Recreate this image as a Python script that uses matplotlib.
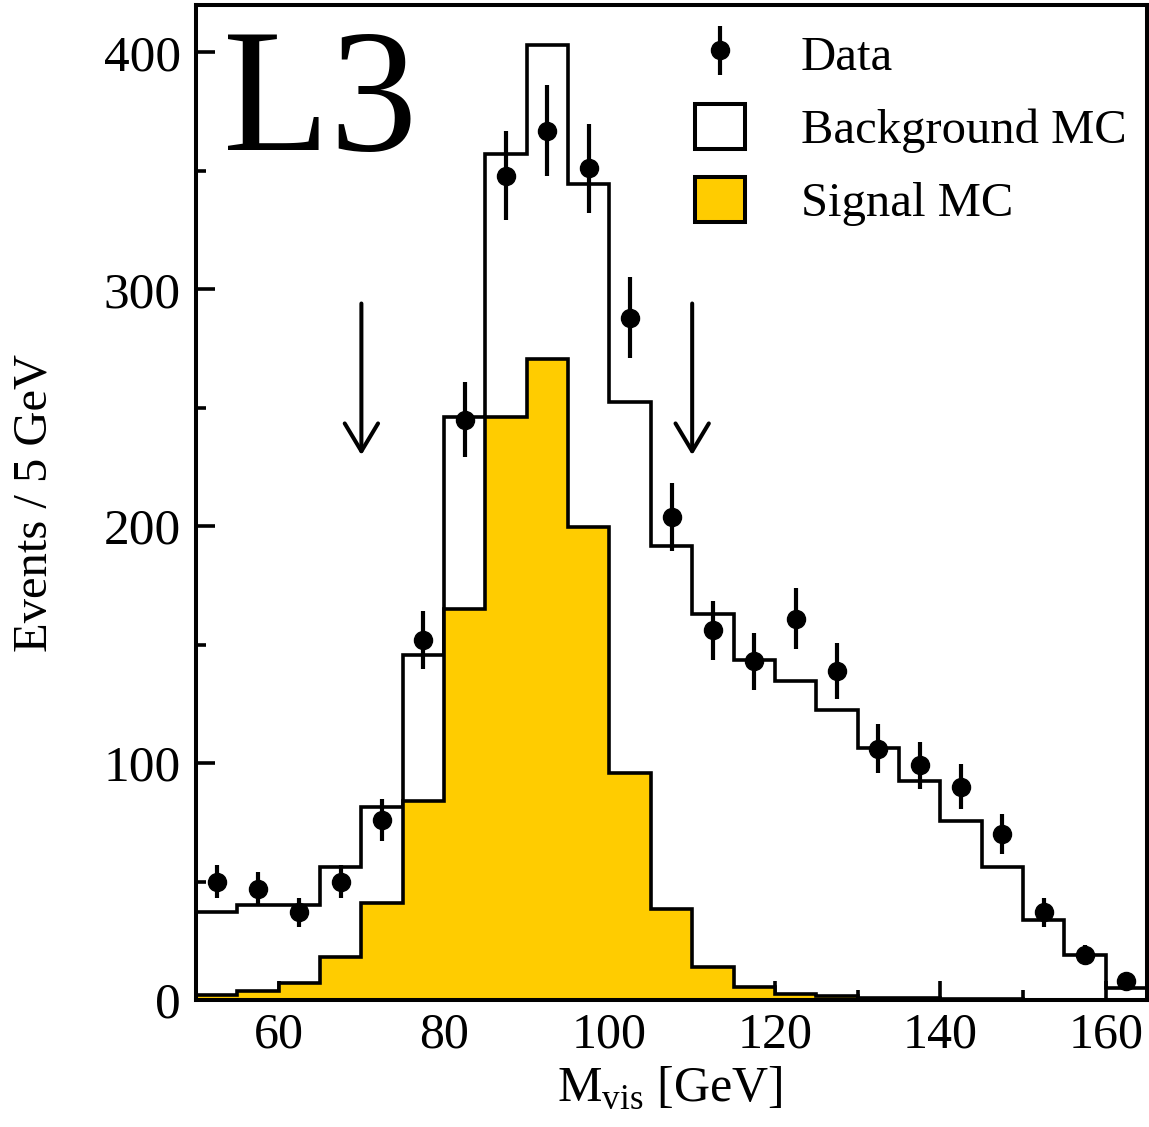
import numpy as np
import matplotlib
matplotlib.use("Agg")
import matplotlib.pyplot as plt
from matplotlib.patches import Patch
from matplotlib.ticker import MultipleLocator

plt.rcParams['font.family'] = ['Liberation Serif', 'DejaVu Serif']
plt.rcParams['mathtext.fontset'] = 'custom'
plt.rcParams['mathtext.rm'] = 'Liberation Serif'

# bin edges, 5 GeV wide
edges = np.arange(50, 166, 5)

# total MC (background + signal)
total_mc = [37, 40, 40, 56, 81.5, 145.5, 246, 357, 403, 344.5, 252.5, 191.5,
            163, 143.5, 134.5, 122.5, 106.5, 92.5, 75.5, 56, 33.7, 18.8, 5.2]

# signal MC (yellow)
signal_mc = [2.3, 3.7, 7.2, 18.2, 41, 84, 165, 246, 270.7, 199.8, 95.8, 38.5,
             13.9, 5.5, 2.4, 1.5, 1.0, 0.7, 0.4, 0.3, 0.2, 0.1, 0.1]

# data points at bin centres
data_x = [52.5, 57.5, 62.5, 67.5, 72.5, 77.5, 82.5, 87.5, 92.5, 97.5, 102.5, 107.5,
          112.5, 117.5, 122.5, 127.5, 132.5, 137.5, 142.5, 147.5, 152.5, 157.5, 162.5]
data_y = [50, 47, 37, 50, 76, 152, 245, 348, 367, 351, 288, 204,
          156, 143, 161, 139, 106, 99, 90, 70, 37, 19, 8]
data_err = [7.1, 6.9, 6.1, 7.1, 8.7, 12.3, 15.7, 18.7, 19.2, 18.7, 17.0, 14.3,
            12.5, 12.0, 12.7, 11.8, 10.3, 9.9, 9.5, 8.4, 6.1, 4.4, 2.8]

# cut positions
cut_x = [70, 110]
arrow_top = 294
arrow_tip = 230

yellow = '#FFCC00'

fig = plt.figure(figsize=(11.49, 11.27), dpi=100)
ax = fig.add_axes([196/1149, 1 - 1000/1127, 951/1149, 995/1127])

ax.stairs(total_mc, edges, color='black', linewidth=2.6, zorder=2)
ax.stairs(signal_mc, edges, fill=True, color=yellow, zorder=3)
ax.stairs(signal_mc, edges, color='black', linewidth=2.6, zorder=4)
ax.errorbar(data_x, data_y, yerr=data_err, fmt='o', color='black',
            markersize=13, elinewidth=3, capsize=0, zorder=5)

for cx in cut_x:
    ax.annotate('', xy=(cx, arrow_tip), xytext=(cx, arrow_top),
                arrowprops=dict(arrowstyle='->, head_length=1.0, head_width=0.6',
                                color='black', linewidth=2.9, mutation_scale=20,
                                shrinkA=0, shrinkB=0))

ax.text(0.028, 0.854, 'L3', transform=ax.transAxes, fontsize=126,
        va='baseline', ha='left')

ax.set_xlim(50, 165)
ax.set_ylim(0, 420)
ax.xaxis.set_major_locator(MultipleLocator(20))
ax.xaxis.set_minor_locator(MultipleLocator(10))
ax.yaxis.set_major_locator(MultipleLocator(100))
ax.yaxis.set_minor_locator(MultipleLocator(50))
ax.tick_params(which='both', direction='in', top=False, right=False, width=2.6)
ax.tick_params(which='major', length=14, pad=11)
ax.tick_params(which='minor', length=7)
ax.tick_params(axis='x', labelsize=36, pad=9)
ax.tick_params(axis='y', labelsize=37)
for sp in ax.spines.values():
    sp.set_linewidth(2.9)
    sp.set_zorder(6)

xlab = ax.set_xlabel(r'M$_{\mathrm{vis}}$ [GeV]', fontsize=36)
xlab.set_va('baseline')
ax.xaxis.set_label_coords(0.498, -0.1015)
ax.set_ylabel('Events / 5 GeV', fontsize=35, labelpad=34)

# errorbar-style legend handle for data
data_handle = ax.errorbar([], [], yerr=[], fmt='o', color='black',
                          markersize=13, elinewidth=3, capsize=0)
handles = [
    data_handle,
    Patch(facecolor='white', edgecolor='black', linewidth=2.9),
    Patch(facecolor=yellow, edgecolor='black', linewidth=2.9),
]
leg = ax.legend(handles, ['Data', 'Background MC', 'Signal MC'],
                loc='upper left', bbox_to_anchor=(695/1149, 1 - 31/1127),
                bbox_transform=fig.transFigure, frameon=False, fontsize=35,
                borderpad=0, borderaxespad=0, handlelength=1.03,
                handleheight=1.03, handletextpad=1.15, labelspacing=0.5)

fig.savefig('out.png', dpi=100)
